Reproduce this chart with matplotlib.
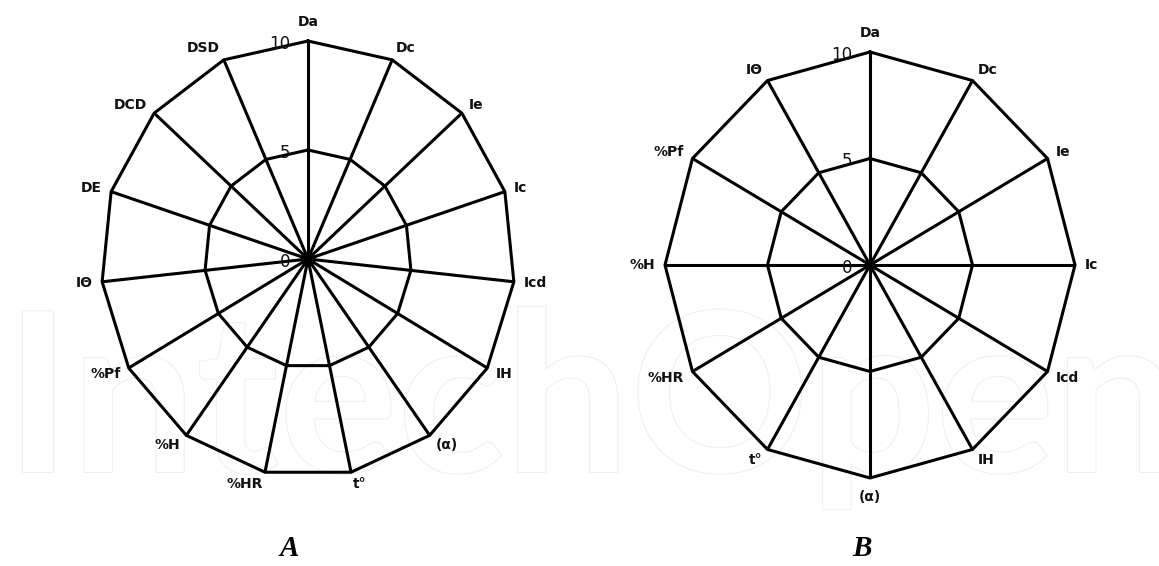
import numpy as np
import matplotlib
matplotlib.use("Agg")
import matplotlib.pyplot as plt
import matplotlib.patheffects as pe

# ---------------------------------------------------
# данные
# ---------------------------------------------------
labels_a = ["Da", "Dc", "Ie", "Ic", "Icd", "IH", "(α)", "t°", "%HR", "%H",
            "%Pf", "IΘ", "DE", "DCD", "DSD"]
values_a = [10, 10, 10, 10, 10, 10, 10, 10, 10, 10, 10, 10, 10, 10, 10]

labels_b = ["Da", "Dc", "Ie", "Ic", "Icd", "IH", "(α)", "t°", "%HR", "%H",
            "%Pf", "IΘ"]
values_b = [10, 10, 10, 10, 10, 10, 10, 10, 10, 10, 10, 10]

ring_levels = [0, 5, 10]
panel_names = ["A", "B"]

W, H = 1159, 566
fig = plt.figure(figsize=(W / 100, H / 100), dpi=100)
fig.patch.set_facecolor("white")

# водяной знак (еле заметный контур)
fig.text(5 / W, (H - 472) / H, "IntechOpen", fontsize=160, family="Lato",
         weight="bold", color="white", ha="left", va="baseline", zorder=-5,
         path_effects=[pe.withStroke(linewidth=1.5, foreground="#efefef")])


def radar(rect, labels, values, name, name_x, dot):
    ax = fig.add_axes(rect, projection="polar")
    ax.set_aspect("auto")
    ax.set_theta_zero_location("N")
    ax.set_theta_direction(-1)
    ax.set_ylim(0, 10)
    ax.grid(False)
    ax.set_xticks([])
    ax.set_yticks([])
    ax.spines["polar"].set_visible(False)
    ax.patch.set_alpha(0)

    n = len(labels)
    angles = np.linspace(0, 2 * np.pi, n, endpoint=False)
    closed = np.append(angles, angles[0])

    # лучи
    for a, v in zip(angles, values):
        ax.plot([a, a], [0, v], color="black", lw=2.2, clip_on=False,
                solid_capstyle="butt")
    # кольца
    for lev in ring_levels[1:-1]:
        ax.plot(closed, [lev] * (n + 1), color="black", lw=2.2, clip_on=False)
    ax.plot(closed, values + values[:1], color="black", lw=2.2, clip_on=False,
            solid_joinstyle="miter")
    ax.plot([0], [0], "o", color="black", ms=dot, clip_on=False)

    # подписи осей
    for a, lab, v in zip(angles, labels, values):
        s, c = np.sin(a), np.cos(a)
        if abs(s) < 0.1:
            ha, off = "center", (0, 14 * c)
        else:
            ha = "left" if s > 0 else "right"
            off = (7 * s, 9 * c)
        ax.annotate(lab, xy=(a, v), xytext=off, textcoords="offset points",
                    ha=ha, va="center", fontsize=10, weight="bold",
                    color="#111111", annotation_clip=False)

    # подписи шкалы
    for lev in ring_levels:
        ax.annotate(str(lev), xy=(0, lev), xytext=(-13, -2),
                    textcoords="offset points", ha="right", va="center",
                    fontsize=12, color="#111111", annotation_clip=False)

    fig.text(name_x / W, (H - 548) / H, name, fontsize=21, family="Liberation Serif",
             weight="bold", style="italic", ha="center", va="center")
    return ax


radar([101 / W, (H - 477) / H, 414 / W, 436 / H], labels_a, values_a,
      panel_names[0], 289, 9)
radar([665 / W, (H - 478) / H, 410 / W, 426 / H], labels_b, values_b,
      panel_names[1], 862, 6)

fig.savefig("out.png", dpi=100, facecolor="white")
